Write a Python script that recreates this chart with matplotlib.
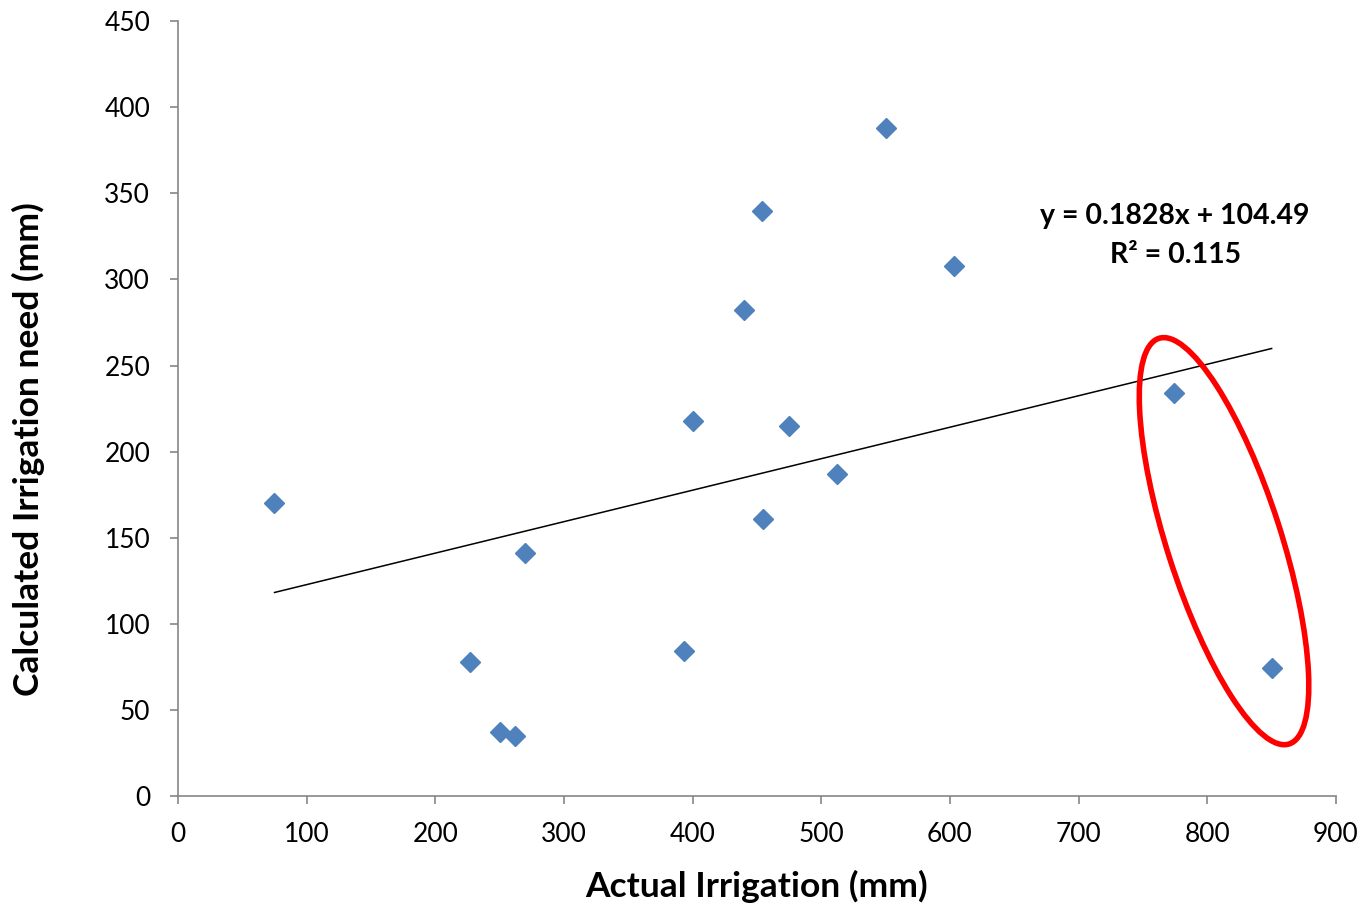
import matplotlib
matplotlib.use("Agg")
import matplotlib.pyplot as plt
from matplotlib.patches import Ellipse
from matplotlib.transforms import IdentityTransform
import numpy as np

plt.rcParams['font.family'] = ['Lato', 'DejaVu Sans']

# field data
actual = [75, 227, 250, 262, 270, 393, 400, 440, 454, 455, 475, 512, 550, 603, 774, 850]
calculated = [170, 78, 37, 35, 141, 84, 218, 282, 340, 161, 215, 187, 388, 308, 234, 74.5]

# linear trendline
slope = 0.1828
intercept = 104.49
r2 = 0.115

xticks = list(range(0, 901, 100))
yticks = list(range(0, 451, 50))

blue = '#4F81BD'
gray = '#868686'

fig = plt.figure(figsize=(13.67, 9.08), dpi=100)
ax = fig.add_axes([0.1302, 0.1233, 0.8471, 0.8535])

ax.plot(actual, calculated, linestyle='none', marker='D', markersize=10,
        color=blue, markeredgecolor=blue, zorder=3)

xs = np.array([min(actual), max(actual)])
ax.plot(xs, slope * xs + intercept, color='black', linewidth=1.1, zorder=2)

ax.set_xlim(0, 900)
ax.set_ylim(0, 450)
ax.set_xticks(xticks)
ax.set_yticks(yticks)
ax.tick_params(axis='both', direction='out', length=6, width=1.2, color=gray,
               labelsize=19)
ax.tick_params(axis='y', pad=14)
ax.tick_params(axis='x', pad=13)

for side in ['top', 'right']:
    ax.spines[side].set_visible(False)
for side in ['left', 'bottom']:
    ax.spines[side].set_color(gray)
    ax.spines[side].set_linewidth(1.2)

ax.set_xlabel('Actual Irrigation (mm)', fontsize=25.5, fontweight='bold', va='center')
ax.set_ylabel('Calculated Irrigation need (mm)', fontsize=25.5, fontweight='bold', va='center')
ax.xaxis.set_label_coords(0.5, -0.117)
ax.yaxis.set_label_coords(-0.1295, 0.448)

ax.text(775, 337, 'y = %.4fx + %.2f' % (slope, intercept), fontsize=20.5,
        fontweight='bold', ha='center', va='center')
ax.text(775, 314, 'R² = %.3f' % r2, fontsize=20.5,
        fontweight='bold', ha='center', va='center')

# circle the two high-irrigation fields (sized in pixels)
cx, cy = ax.transData.transform((813, 148))
ring = Ellipse((cx, cy), width=426, height=114, angle=-72.2, fill=False,
               edgecolor='red', linewidth=4, transform=IdentityTransform(),
               zorder=4)
fig.patches.append(ring)

fig.savefig('out.png', dpi=100)
